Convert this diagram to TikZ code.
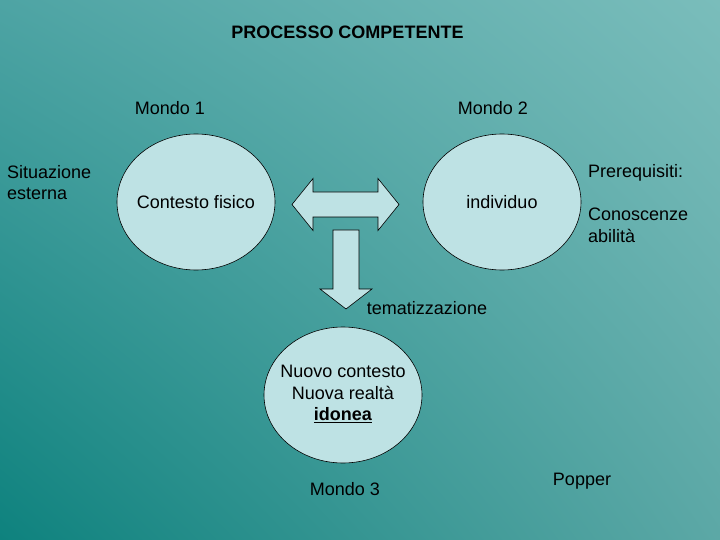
\documentclass[tikz,border=0pt]{standalone}
\usepackage{fontspec}
\setmainfont{Liberation Sans}
\usetikzlibrary{shapes.geometric,shadings}
\definecolor{bgTL}{RGB}{78,164,164}
\definecolor{bgTR}{RGB}{122,189,187}
\definecolor{bgBL}{RGB}{14,130,126}
\definecolor{bgBR}{RGB}{92,168,166}
\definecolor{bubble}{RGB}{190,226,228}
\newcommand{\zw}[1]{\makebox[0pt][c]{#1}}
\tikzset{
  txt/.style={font=\fontsize{18}{21.5}\selectfont, inner sep=0pt, text=black},
  world/.style={ellipse, draw=black, line width=0.6pt, fill=bubble,
    minimum width=158pt, minimum height=136pt, inner sep=0pt,
    font=\fontsize{18}{21.5}\selectfont},
  blockarrow/.style={draw=black, line width=0.6pt, fill=bubble, line join=miter}
}
\begin{document}
\begin{tikzpicture}[x=1pt,y=-1pt]
\shade[upper left=bgTL, upper right=bgTR, lower left=bgBL, lower right=bgBR]
  (0,0) rectangle (720,540);
\useasboundingbox (0,0) rectangle (720,540);

\node[txt, anchor=base, font=\fontsize{18}{21.5}\selectfont\bfseries] (title) at (347.5,38.5) {PROCESSO COMPETENTE};

\node[txt, anchor=base] (m1) at (170,115) {Mondo 1};
\node[txt, anchor=base] (m2) at (493,115) {Mondo 2};
\node[txt, anchor=base] (m3) at (345,495.5) {Mondo 3};
\node[txt, anchor=base] (popper) at (582,485) {Popper};

\node[txt, anchor=north west, align=left] (sit) at (7,165) {Situazione\\esterna};
\node[txt, anchor=base west] (prereq) at (588,178) {Prerequisiti:};
\node[txt, anchor=north west, align=left] (conosc) at (588,208) {Conoscenze\\abilità};

\node[world] (w1) at (196,202) {\zw{\raisebox{-3pt}{Contesto fisico}}};
\node[world] (w2) at (502,202) {\zw{\raisebox{-3pt}{individuo}}};
\node[world] (w3) at (343,395) {\zw{\raisebox{-1pt}{\begin{tabular}{@{}c@{}}Nuovo contesto\\Nuova realtà\\\underline{\textbf{idonea}}\end{tabular}}}};

% double arrow between the worlds
\draw[blockarrow] (292,204.5) -- (313,178.5) -- (313,192) -- (378,192) -- (378,178.5)
  -- (399,204.5) -- (378,230.5) -- (378,217) -- (313,217) -- (313,230.5) -- cycle;
% downward arrow
\draw[blockarrow] (333,230) -- (359,230) -- (359,289) -- (372,289) -- (346,309)
  -- (320,289) -- (333,289) -- cycle;

\node[txt, anchor=base] (tema) at (427,314) {tematizzazione};
\end{tikzpicture}
\end{document}
